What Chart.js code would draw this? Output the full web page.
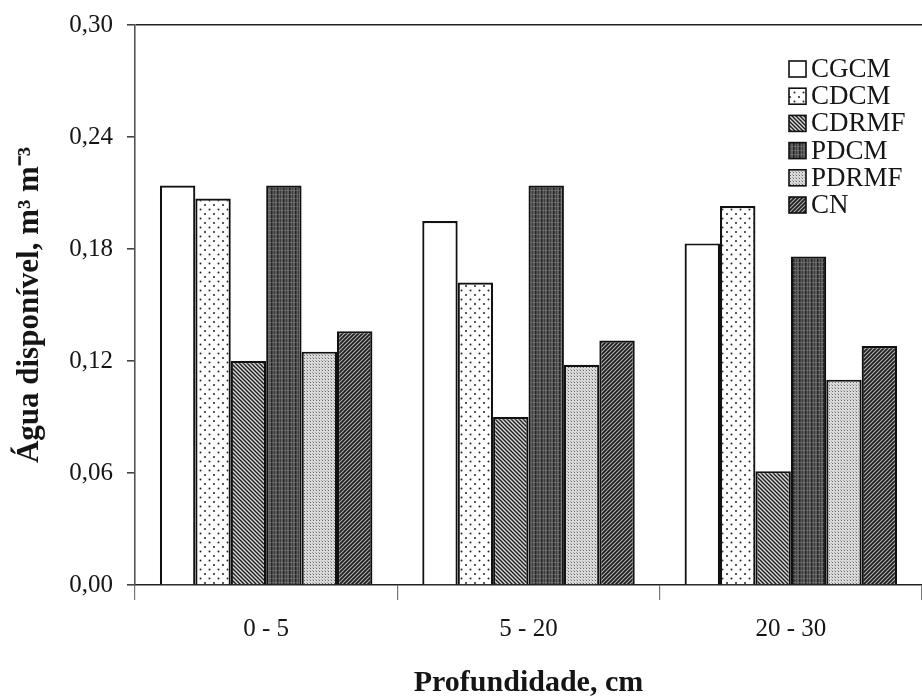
<!DOCTYPE html>
<html>
<head>
<meta charset="utf-8">
<script src="https://cdn.jsdelivr.net/npm/chart.js@4.4.1/dist/chart.umd.min.js"></script>
<style>
  body { margin: 0; background: #fff; }
  canvas { display: block; }
</style>
</head>
<body>
<canvas id="chart" width="922" height="700"></canvas>
<script>
// profundidades (eixo x)
const depths = ['0 - 5', '5 - 20', '20 - 30'];

// água disponível, m3 m-3, por tratamento
const cgcm = [0.214, 0.195, 0.183];
const cdcm = [0.207, 0.162, 0.203];
const cdrmf = [0.120, 0.090, 0.061];
const pdcm = [0.214, 0.214, 0.176];
const pdrmf = [0.125, 0.118, 0.110];
const cn = [0.136, 0.131, 0.128];

const yTicks = [0, 0.06, 0.12, 0.18, 0.24, 0.30];

const serif = '"Liberation Serif", "Times New Roman", serif';
const ink = '#151515';

// padrões de preenchimento (imitam as hachuras do original)
function makePattern(w, h, draw) {
  const c = document.createElement('canvas');
  c.width = w; c.height = h;
  const g = c.getContext('2d');
  draw(g, w, h);
  return g.createPattern(c, 'repeat');
}

const patWhite = '#ffffff';

const patDots = makePattern(9, 9, (g) => {
  g.fillStyle = '#fff'; g.fillRect(0, 0, 9, 9);
  g.fillStyle = '#222';
  g.beginPath(); g.arc(2.5, 2.5, 1, 0, Math.PI * 2); g.fill();
  g.beginPath(); g.arc(7, 7, 1, 0, Math.PI * 2); g.fill();
});

const patBack = makePattern(4, 4, (g) => {
  g.fillStyle = '#dcdcdc'; g.fillRect(0, 0, 4, 4);
  g.strokeStyle = '#222'; g.lineWidth = 1.5;
  g.beginPath();
  g.moveTo(-1, -1); g.lineTo(5, 5);
  g.moveTo(-1, 3); g.lineTo(1, 5);
  g.moveTo(3, -1); g.lineTo(5, 1);
  g.stroke();
});

const patDark = makePattern(6, 4, (g) => {
  g.fillStyle = '#5e5e5e'; g.fillRect(0, 0, 6, 4);
  g.fillStyle = '#222'; g.fillRect(1, 0, 1.5, 4);
  g.fillStyle = '#3c3c3c'; g.fillRect(4, 0, 1, 4);
  g.fillStyle = '#777'; g.fillRect(0, 2, 6, 0.6);
});

const patFine = makePattern(3, 3, (g) => {
  g.fillStyle = '#dadada'; g.fillRect(0, 0, 3, 3);
  g.fillStyle = '#6a6a6a'; g.fillRect(1, 1, 1, 1);
  g.fillStyle = '#a8a8a8'; g.fillRect(0, 0, 1, 1);
});

const patFwd = makePattern(4, 4, (g) => {
  g.fillStyle = '#b0b0b0'; g.fillRect(0, 0, 4, 4);
  g.strokeStyle = '#1c1c1c'; g.lineWidth = 1.7;
  g.beginPath();
  g.moveTo(-1, 5); g.lineTo(5, -1);
  g.moveTo(-1, 1); g.lineTo(1, -1);
  g.moveTo(3, 5); g.lineTo(5, 3);
  g.stroke();
});

function serie(label, data, fill) {
  return {
    label, data,
    backgroundColor: fill,
    borderColor: '#111',
    borderWidth: 2.2,
    barPercentage: 1,
    categoryPercentage: 0.81,
  };
}

// legenda em coluna dentro da área do gráfico, canto superior direito
const boxLegend = {
  id: 'boxLegend',
  afterDatasetsDraw(chart) {
    const { ctx, chartArea } = chart;
    const x = chartArea.right - 133;
    const y0 = chartArea.top + 44;
    ctx.save();
    ctx.font = '27px ' + serif;
    ctx.textBaseline = 'middle';
    chart.data.datasets.forEach((ds, i) => {
      const y = y0 + i * 27.2;
      ctx.fillStyle = ds.backgroundColor;
      ctx.fillRect(x, y - 8, 17, 16);
      ctx.strokeStyle = '#111';
      ctx.lineWidth = 1.6;
      ctx.strokeRect(x, y - 8, 17, 16);
      ctx.fillStyle = ink;
      ctx.fillText(ds.label, x + 22, y + 1);
    });
    ctx.restore();
  }
};

new Chart(document.getElementById('chart'), {
  type: 'bar',
  data: {
    labels: depths,
    datasets: [
      serie('CGCM', cgcm, patWhite),
      serie('CDCM', cdcm, patDots),
      serie('CDRMF', cdrmf, patBack),
      serie('PDCM', pdcm, patDark),
      serie('PDRMF', pdrmf, patFine),
      serie('CN', cn, patFwd),
    ],
  },
  options: {
    responsive: false,
    animation: false,
    layout: { padding: { top: 25, right: 0, left: 0, bottom: 0 } },
    plugins: {
      legend: { display: false },
      tooltip: { enabled: false },
    },
    scales: {
      x: {
        afterFit: (s) => { s.height = 115; },
        grid: {
          offset: true,
          drawOnChartArea: false,
          drawTicks: true,
          tickLength: 15,
          color: '#777',
          lineWidth: 1.2,
        },
        border: { display: true, color: '#222', width: 1.6 },
        ticks: { color: ink, padding: 14, font: { family: serif, size: 25 } },
        title: {
          display: true,
          text: 'Profundidade, cm',
          color: ink,
          padding: { top: 0, bottom: 0 },
          font: { family: serif, size: 30, weight: 'bold', lineHeight: 1.1 },
        },
      },
      y: {
        min: 0,
        max: 0.3,
        afterFit: (s) => { s.width = 135; },
        afterBuildTicks: (s) => { s.ticks = yTicks.map((v) => ({ value: v })); },
        grid: {
          drawTicks: true,
          tickLength: 8,
          tickColor: '#444',
          color: (c) => (c.tick && c.tick.value >= 0.299 ? '#222' : 'rgba(0,0,0,0)'),
          lineWidth: 1.6,
        },
        border: { display: true, color: '#555', width: 1.6 },
        ticks: {
          color: ink,
          padding: 14,
          font: { family: serif, size: 25, lineHeight: 0.6 },
          callback: (v) => Number(v).toFixed(2).replace('.', ','),
        },
        title: {
          display: true,
          text: 'Água disponível, m³ m⁻³',
          color: ink,
          padding: { top: 13, bottom: 0 },
          font: { family: serif, size: 31, weight: 'bold', lineHeight: 1.1 },
        },
      },
    },
  },
  plugins: [boxLegend],
});
</script>
</body>
</html>
